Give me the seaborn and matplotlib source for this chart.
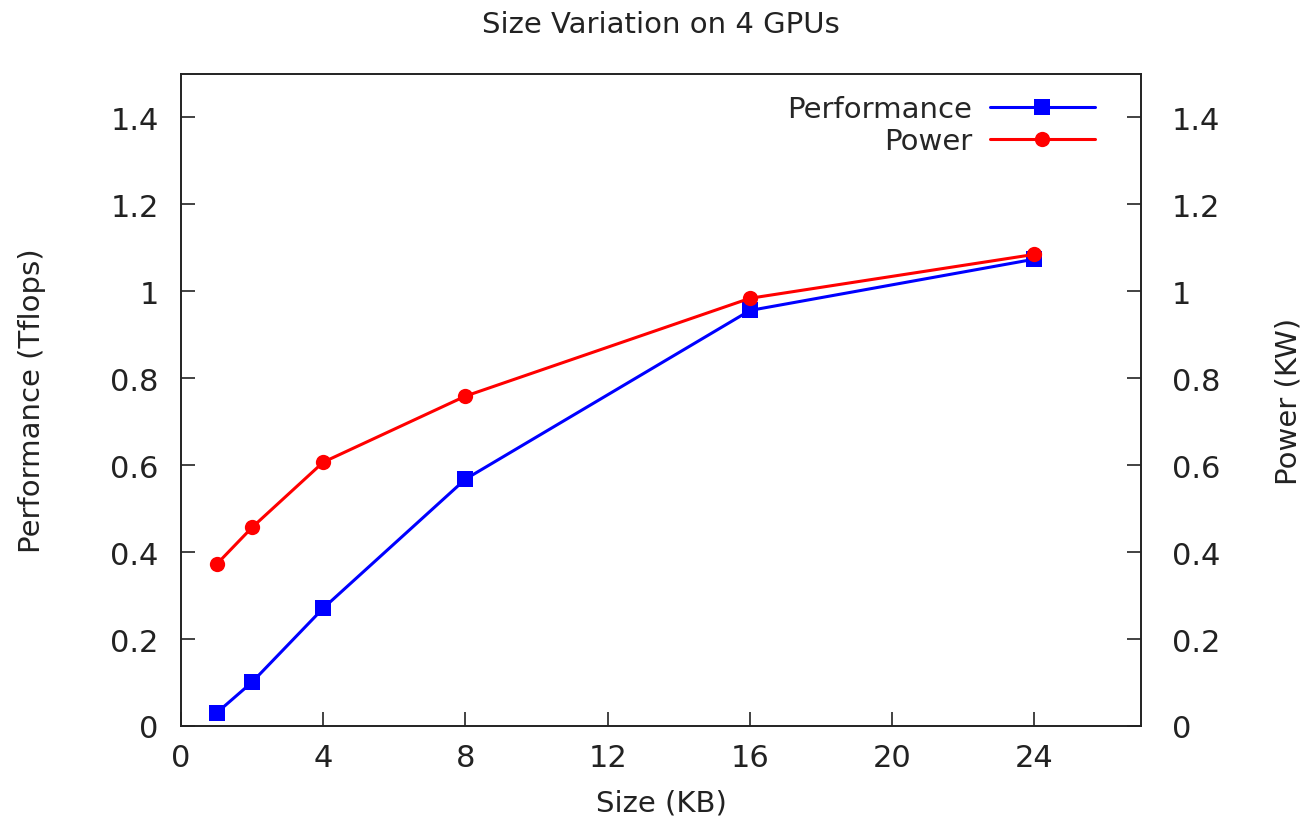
import seaborn as sns
import matplotlib.pyplot as plt
import pandas as pd

size_kb = [1, 2, 4, 8, 16, 24]
performance = [0.030, 0.101, 0.271, 0.568, 0.956, 1.074]
power = [0.372, 0.457, 0.607, 0.759, 0.984, 1.085]
yticks = [0, 0.2, 0.4, 0.6, 0.8, 1.0, 1.2, 1.4]
ytick_labels = ["0", "0.2", "0.4", "0.6", "0.8", "1", "1.2", "1.4"]
xticks = [0, 4, 8, 12, 16, 20, 24]

sns.set_style("ticks")
plt.rcParams['font.family'] = ['DejaVu Sans']

df = pd.DataFrame({"size": size_kb, "perf": performance, "power": power})

fig = plt.figure(figsize=(13.09, 8.28), dpi=100)
ax = fig.add_axes([0.1383, 0.122, 0.7334, 0.7874])
ax2 = ax.twinx()

sns.lineplot(data=df, x="size", y="perf", ax=ax, color="#0000ff", marker="s",
             markersize=11, markeredgewidth=0, linewidth=2.2, label="Performance", legend=False)
sns.lineplot(data=df, x="size", y="power", ax=ax2, color="#ff0000", marker="o",
             markersize=11, markeredgewidth=0, linewidth=2.2, label="Power", legend=False)

for a in (ax, ax2):
    a.set_ylim(0, 1.5)
    a.set_yticks(yticks)
    a.set_yticklabels(ytick_labels)
ax.set_xlim(0, 27)
ax.set_xticks(xticks)

ax.tick_params(axis="both", direction="in", length=10, width=1.2, labelsize=22,
               top=False, pad=12, colors="#222222")
ax.tick_params(axis="y", right=False, pad=16)
ax2.tick_params(axis="y", direction="in", length=10, width=1.2, labelsize=22,
                pad=22, colors="#222222")
for a in (ax, ax2):
    for s in a.spines.values():
        s.set_linewidth(1.2)
        s.set_color("#222222")

ax.set_xlabel("Size (KB)", fontsize=21, labelpad=12, color="#222222")
ax.set_ylabel("Performance (Tflops)", fontsize=21, labelpad=46, color="#222222")
ax2.set_ylabel("Power (KW)", fontsize=21, labelpad=39, color="#222222")
ax.set_title("Size Variation on 4 GPUs", fontsize=21, pad=30, color="#222222")

h1, l1 = ax.get_legend_handles_labels()
h2, l2 = ax2.get_legend_handles_labels()
ax2.legend(h1 + h2, l1 + l2, loc="upper right", frameon=False, fontsize=21,
           markerfirst=False, handlelength=3.6, labelspacing=0.15, handletextpad=0.6,
           bbox_to_anchor=(0.97, 0.995), borderaxespad=0.2)

fig.savefig("out.png", dpi=100)
